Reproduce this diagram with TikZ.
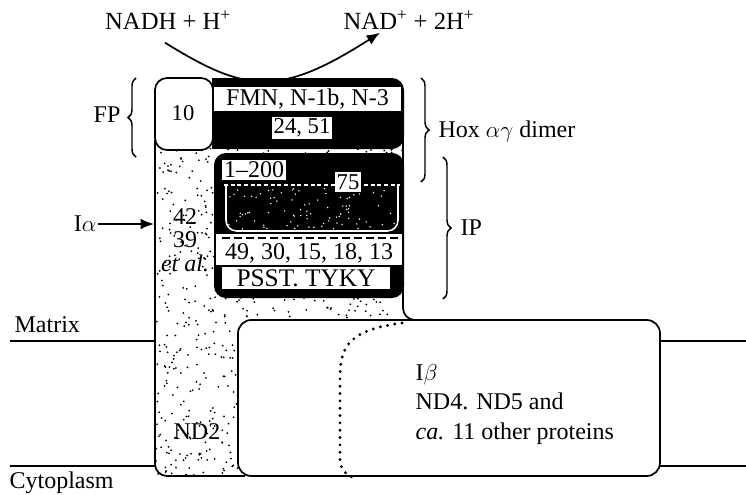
\documentclass[tikz,border=0pt]{standalone}
\usepackage{fontspec}
\setmainfont{Liberation Serif}
\usetikzlibrary{arrows.meta, positioning, decorations.pathreplacing}

\begin{document}
\begin{tikzpicture}[x=0.75pt, y=-0.75pt,
        lbl/.style={font=\fontsize{18}{20}\selectfont, inner sep=1pt},
        tag/.style={lbl, fill=white, inner sep=1.5pt},
        wall/.style={draw, line width=1.3pt},
        brace/.style={draw, decorate, decoration={brace, amplitude=6pt}, line width=1.1pt},
        line/.style={draw, -{Latex[length=10pt, width=8pt]}, line width=1.3pt}]

    \useasboundingbox (0,0) rectangle (746,494);

    % membrane
    \draw[line width=1.3pt] (10,341) -- (746,341);
    \draw[line width=1.3pt] (10,466) -- (746,466);
    \node[lbl, anchor=west] (matrix) at (13,325) {Matrix};
    \node[lbl, anchor=west] (cyto) at (8,483) {Cytoplasm};

    % stippled I-alpha / ND2 part
    \fill[white] (155,148) -- (155,476) -- (238,476) -- (238,320) -- (403,320) -- (403,148) -- cycle;
    \begin{scope}
        \clip (155,148) -- (155,476) -- (238,476) -- (238,320) -- (403,320) -- (403,148) -- cycle;
        \pgfmathsetseed{12}
        \foreach \i in {1,...,950}
            \fill ({155+248*rnd},{148+328*rnd}) circle (0.75pt);
    \end{scope}
    \draw[wall, rounded corners=9] (155,140) -- (155,476) -- (245,476);

    % I-beta
    \draw[wall, fill=white, rounded corners=10] (238,320) rectangle (660,476);
    \draw[line width=2.4pt, line cap=round, dash pattern=on 0pt off 5.5pt]
        (402,323) .. controls (350,330) and (340,345) .. (340,378) -- (340,458)
        .. controls (340,468) and (344,474) .. (352,477);
    \draw[wall, rounded corners=9] (403,90) -- (403,320) -- (420,320);

    % FP and Hox
    \draw[wall, fill=white, rounded corners=9] (155,78) rectangle (213,150);
    \fill[rounded corners=9] (213,78) rectangle (404,149);
    \fill (212,78) rectangle (225,149);

    % IP
    \fill[rounded corners=9] (214,153) rectangle (404,298);
    \begin{scope}
        \clip (228,188) rectangle (396,229);
        \pgfmathsetseed{5}
        \foreach \i in {1,...,90}
            \fill[white] ({228+168*rnd},{188+41*rnd}) circle (0.6pt);
    \end{scope}
    \fill[white] (216,234) rectangle (402,265);
    \draw[white, line width=1.2pt, rounded corners=8] (226,186) -- (226,231) -- (398,231) -- (398,186);
    \draw[white, densely dashed, line width=1pt] (224,185) -- (400,185);
    \draw[dash pattern=on 6pt off 3pt, line width=1.4pt] (222,238) -- (398,238);

    \node[lbl, font=\fontsize{17}{20}\selectfont] (n10) at (183,113) {10};
    \node[tag, minimum width=140pt, minimum height=18pt] (fmn) at (307.5,99) {FMN, N-1b, N-3};
    \node[tag, font=\fontsize{17}{20}\selectfont] (f24) at (302,128) {24, 51};
    \node[tag] (r1) at (254,170) {1--200};
    \node[tag, font=\fontsize{17}{20}\selectfont] (r75) at (348,182) {75};
    \node[lbl] (sub49) at (309,253) {49, 30, 15, 18, 13};
    \node[tag, minimum width=126pt, minimum height=17pt, font=\fontsize{19}{20}\selectfont] (psst) at (306,278) {PSST. TYKY};

    \node[lbl, align=center, font=\fontsize{18}{17.5}\selectfont] (ialpha) at (185,240) {42\\39\\\textit{et al.}};
    \node[lbl] (nd2) at (197,432) {ND2};
    \node[lbl, align=left, anchor=north west, font=\fontsize{18}{22}\selectfont] (ibeta) at (414,363)
        {I$\beta$\\ND4. ND5 and\\\textit{ca.} 11 other proteins};

    % labels outside
    \node[lbl, anchor=east] (ia) at (98,224) {I$\alpha$};
    \coordinate (iaend) at (154,224);
    \path[line] (ia) -- (iaend);

    \draw[brace] (136,157) -- (136,78);
    \node[lbl, anchor=east] (fp) at (122,115) {FP};
    \draw[brace] (421,78) -- (421,182);
    \node[lbl, anchor=west] (hox) at (437,131) {Hox $\alpha\gamma$ dimer};
    \draw[brace] (443,157) -- (443,299);
    \node[lbl, anchor=west] (ip) at (459,228) {IP};

    % reaction
    \node[lbl, font=\fontsize{18.5}{20}\selectfont] (nadh) at (168,20) {NADH + H\textsuperscript{+}};
    \node[lbl, font=\fontsize{18.5}{20}\selectfont] (nad) at (409,20) {NAD\textsuperscript{+} + 2H\textsuperscript{+}};
    \path[line] ([shift={(-3,12)}]nadh.south) .. controls (245,92) and (278,98) .. ([shift={(-29,2)}]nad.south);

\end{tikzpicture}
\end{document}
